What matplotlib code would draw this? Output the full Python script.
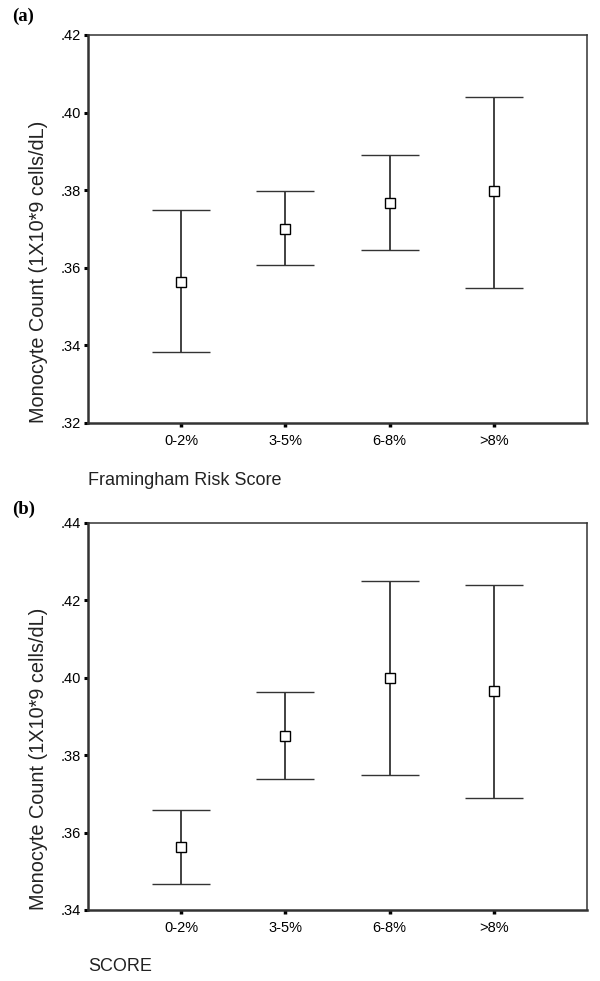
import numpy as np
import matplotlib
matplotlib.use("Agg")
import matplotlib.pyplot as plt

plt.rcParams['font.family'] = ['Liberation Sans', 'DejaVu Sans']

cats = ['0-2%', '3-5%', '6-8%', '>8%']

# panel (a) Framingham Risk Score
fram_mean = [0.3564, 0.3699, 0.3766, 0.3797]
fram_lo = [0.3383, 0.3606, 0.3647, 0.3549]
fram_hi = [0.3750, 0.3797, 0.3890, 0.4040]

# panel (b) SCORE
score_mean = [0.3563, 0.3850, 0.4000, 0.3966]
score_lo = [0.3467, 0.3739, 0.3749, 0.3689]
score_hi = [0.3658, 0.3963, 0.4250, 0.4240]

yticks_a = [0.32, 0.34, 0.36, 0.38, 0.40, 0.42]
yticks_b = [0.34, 0.36, 0.38, 0.40, 0.42, 0.44]

ylabel = 'Monocyte Count (1X10*9 cells/dL)'


def draw_panel(ax, mean, lo, hi, yticks, xlab, tag, tag_y):
    x = np.arange(1, len(cats) + 1)
    mean = np.array(mean)
    err = [mean - np.array(lo), np.array(hi) - mean]
    ax.errorbar(x, mean, yerr=err, fmt='s', ms=7, mfc='white', mec='black',
                mew=1.0, ecolor='#333333', elinewidth=1.3, capsize=21,
                capthick=1.3, zorder=3)
    ax.set_xlim(0.108, 4.892)
    ax.set_ylim(yticks[0], yticks[-1])
    ax.set_xticks(x)
    ax.set_xticklabels(cats, fontsize=10.5)
    ax.set_yticks(yticks)
    ax.set_yticklabels([('%.2f' % v).lstrip('0') for v in yticks], fontsize=10.5)
    ax.tick_params(axis='y', direction='out', length=3, width=2.2, pad=2, color='black')
    ax.tick_params(axis='x', direction='out', length=3, width=2.5, pad=5, color='black')
    for s in ['left', 'bottom']:
        ax.spines[s].set_linewidth(1.8)
        ax.spines[s].set_color('#333333')
    for s in ['top', 'right']:
        ax.spines[s].set_linewidth(1.1)
        ax.spines[s].set_color('#333333')
    ax.text(-0.099, 0.0, ylabel, transform=ax.transAxes, rotation=90,
            ha='center', va='bottom', fontsize=14.3, color='#222222')
    ax.text(0.0, -0.147, xlab, transform=ax.transAxes, ha='left',
            va='center', fontsize=13, color='#222222')
    ax.text(-0.152, tag_y, tag, transform=ax.transAxes, ha='left', va='center',
            fontsize=13.5, fontweight='bold', family='Liberation Serif')


fig = plt.figure(figsize=(6, 9.81), dpi=100)
ax_a = fig.add_axes([88 / 600, 558 / 981, 499 / 600, 388 / 981])
ax_b = fig.add_axes([88 / 600, 71 / 981, 499 / 600, 387 / 981])

draw_panel(ax_a, fram_mean, fram_lo, fram_hi, yticks_a, 'Framingham Risk Score', '(a)', 1.047)
draw_panel(ax_b, score_mean, score_lo, score_hi, yticks_b, 'SCORE', '(b)', 1.036)

fig.savefig('out.png', dpi=100)
